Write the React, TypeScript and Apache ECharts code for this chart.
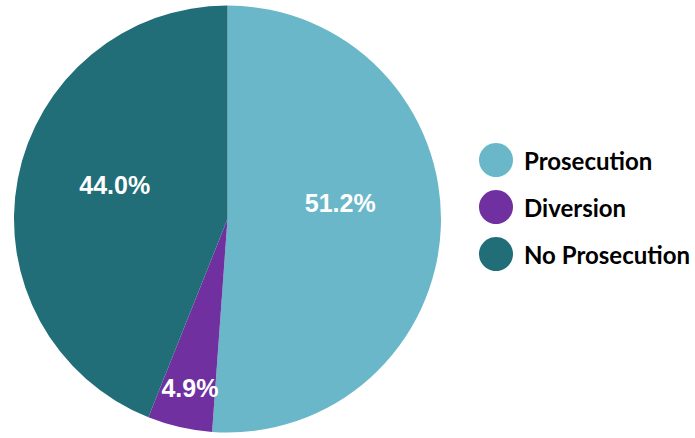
import React, { useEffect, useRef } from "react";
import * as echarts from "echarts";

const categories = ["Prosecution", "Diversion", "No Prosecution"];
const values = [51.2, 4.9, 44.0];
const colors = ["#6BB7CA", "#7030A0", "#216E78"];
const labelShift: [number, number][] = [
  [3, -20],
  [-13, 62],
  [-5, -13],
];

export default function App() {
  const ref = useRef<HTMLDivElement>(null);
  useEffect(() => {
    if (!ref.current) return;
    const chart = echarts.init(ref.current, undefined, { renderer: "svg" });
    chart.setOption({
      animation: false,
      backgroundColor: "#ffffff",
      legend: {
        orient: "vertical",
        left: 479,
        top: 143,
        padding: 0,
        icon: "circle",
        itemWidth: 34,
        itemHeight: 34,
        itemGap: 13,
        data: categories,
        textStyle: {
          fontFamily: "Lato",
          fontWeight: "bold",
          fontSize: 24,
          color: "#000000",
          padding: [0, 0, 0, 6],
        },
      },
      series: [
        {
          type: "pie",
          center: [227.5, 219],
          radius: 213.5,
          startAngle: 90,
          clockwise: true,
          avoidLabelOverlap: false,
          label: {
            show: true,
            position: "inside",
            color: "#ffffff",
            fontFamily: "Liberation Sans",
            fontWeight: "bold",
            fontSize: 25,
            formatter: (p: any) => Number(p.value).toFixed(1) + "%",
          },
          labelLine: { show: false },
          emphasis: { disabled: true },
          labelLayout: (p: any) => ({
            dx: labelShift[p.dataIndex][0],
            dy: labelShift[p.dataIndex][1],
          }),
          data: categories.map((name, i) => ({
            name,
            value: values[i],
            itemStyle: { color: colors[i] },
          })),
        },
      ],
    });
    return () => chart.dispose();
  }, []);
  return (
    <div
      ref={ref}
      style={{ position: "fixed", left: 0, top: 0, width: 695, height: 438 }}
    />
  );
}
